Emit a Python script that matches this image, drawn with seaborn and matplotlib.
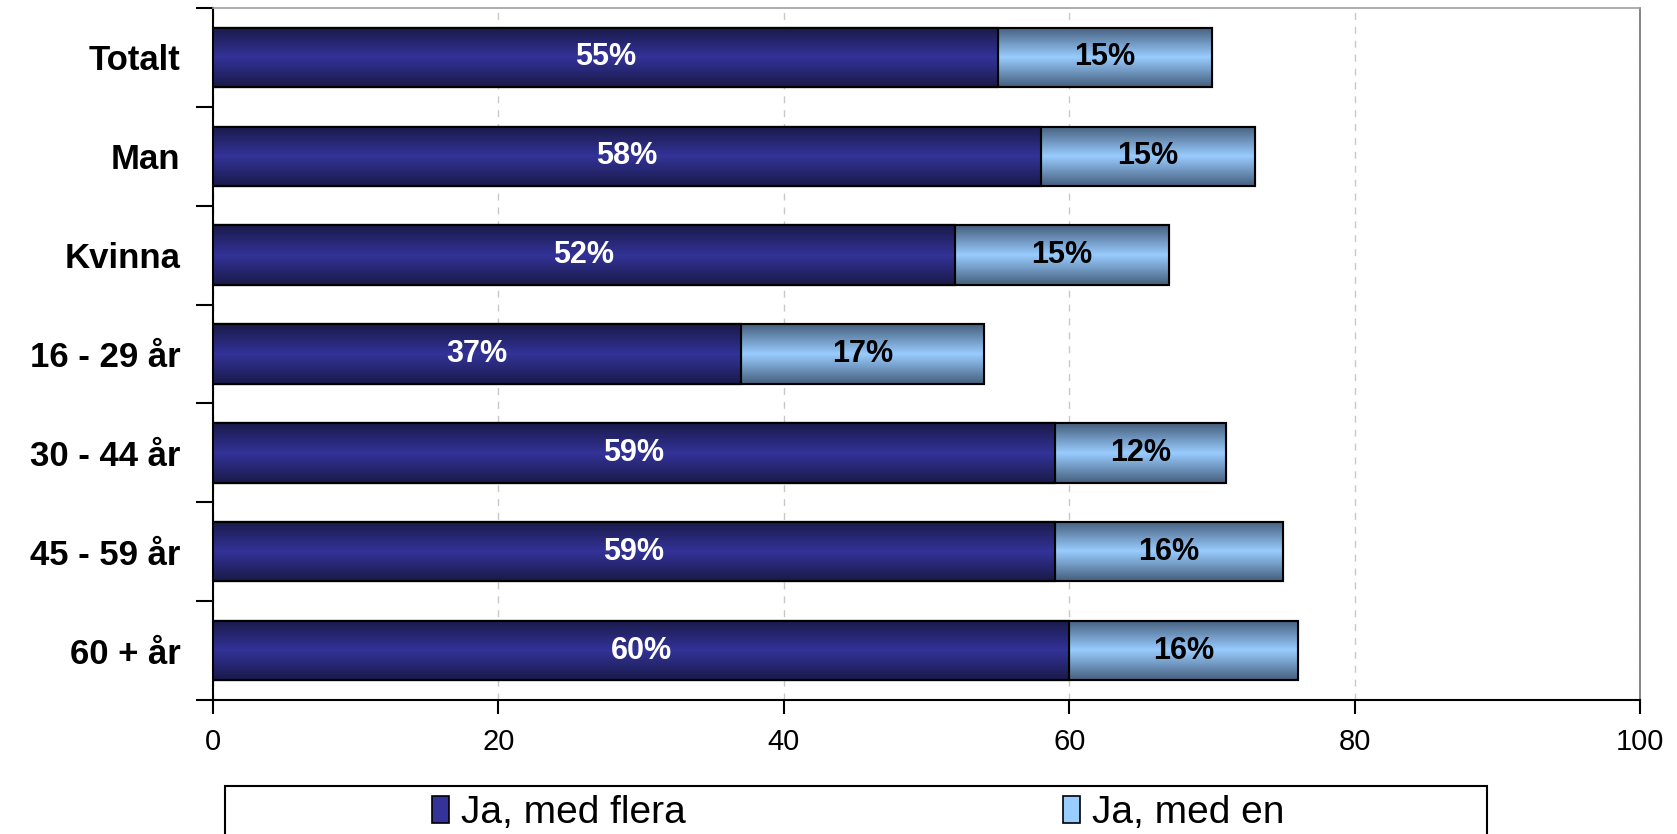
import numpy as np
import pandas as pd
import matplotlib
matplotlib.use("Agg")
import matplotlib.pyplot as plt
from matplotlib.colors import LinearSegmentedColormap
from matplotlib.patches import Patch, Rectangle
import seaborn as sns

## data

groups = ["Totalt", "Man", "Kvinna", "16 - 29 år", "30 - 44 år", "45 - 59 år", "60 + år"]
flera = [55, 58, 52, 37, 59, 59, 60]
en = [15, 15, 15, 17, 12, 16, 16]
xticks = [0, 20, 40, 60, 80, 100]

df = pd.DataFrame({"group": groups, "flera": flera, "en": en})
df["total"] = df["flera"] + df["en"]

sns.set_style("white")
plt.rcParams["font.family"] = ["Liberation Sans", "DejaVu Sans"]
plt.rcParams["text.color"] = "black"
plt.rcParams["xtick.color"] = "black"
plt.rcParams["ytick.color"] = "black"

fig = plt.figure(figsize=(16.77, 8.34), dpi=100)
ax = fig.add_axes([213 / 1677, 1 - 700 / 834, (1640 - 213) / 1677, (700 - 8) / 834])

## stacked bars: total first, then the dark part on top
sns.barplot(data=df, y="group", x="total", color="#99ccff", width=0.6,
            edgecolor="black", linewidth=1.5, ax=ax, zorder=3)
n_light = len(ax.patches)
sns.barplot(data=df, y="group", x="flera", color="#333399", width=0.6,
            edgecolor="black", linewidth=1.5, ax=ax, zorder=4)

## gradient fill for each bar
cm_dark = LinearSegmentedColormap.from_list("d", ["#1a1a4a", "#333399", "#1a1a4a"])
cm_light = LinearSegmentedColormap.from_list("l", ["#46607e", "#99ccff", "#46607e"])
grad = np.linspace(0, 1, 64).reshape(-1, 1)
for i, p in enumerate(list(ax.patches)):
    x0, y0 = p.get_x(), p.get_y()
    w, h = p.get_width(), p.get_height()
    cmap = cm_light if i < n_light else cm_dark
    im = ax.imshow(grad, cmap=cmap, aspect="auto", extent=(x0, x0 + w, y0 + h, y0),
                   zorder=p.get_zorder() + 0.1, interpolation="bilinear")
    im.set_clip_path(p)
    p.set_facecolor("none")
    edge = Rectangle((x0, y0), w, h, fill=False, edgecolor="black", linewidth=1.5,
                     zorder=p.get_zorder() + 0.2)
    ax.add_patch(edge)
ax.set_xlim(0, 100)
ax.set_ylim(6.5, -0.5)

## value labels
for i, (a, b) in enumerate(zip(flera, en)):
    ax.text(a / 2, i, f"{a}%", color="white", fontsize=22, fontweight="bold",
            ha="center", va="center", zorder=10)
    ax.text(a + b / 2, i, f"{b}%", color="black", fontsize=22, fontweight="bold",
            ha="center", va="center", zorder=10)

## grid and axes
ax.set_xticks(xticks)
ax.xaxis.grid(True, linestyle=(0, (5, 5)), color="#c8c8c8", linewidth=1)
ax.set_axisbelow(True)
ax.set_xlabel("")
ax.set_ylabel("")
ax.tick_params(axis="x", bottom=True, direction="out", length=10, width=1.5,
               labelsize=21, pad=10, color="black", labelcolor="black")
ax.tick_params(axis="y", which="major", left=False, labelsize=25, pad=20,
               labelcolor="black")
for lab in ax.get_yticklabels():
    lab.set_fontweight("bold")
ax.set_yticks(np.arange(-0.5, 7, 1), minor=True)
ax.tick_params(axis="y", which="minor", left=True, direction="out", length=12,
               width=1.5, color="black")

ax.spines["left"].set_color("black")
ax.spines["left"].set_linewidth(1.5)
ax.spines["bottom"].set_color("black")
ax.spines["bottom"].set_linewidth(1.5)
ax.spines["top"].set_color("#a0a0a0")
ax.spines["right"].set_color("#707070")
ax.spines["top"].set_linewidth(1.2)
ax.spines["right"].set_linewidth(1.2)

## legend box at the bottom
box = Rectangle((225 / 1677, -0.05), (1487 - 225) / 1677, 0.05 + 1 - 786 / 834,
                transform=fig.transFigure, fill=False, edgecolor="black", linewidth=1.5)
fig.patches.append(box)
handles = [Patch(facecolor="#333399", edgecolor="black", linewidth=1.2),
           Patch(facecolor="#99ccff", edgecolor="black", linewidth=1.2)]
fig.legend(handles, ["Ja, med flera", "Ja, med en"], ncol=2, frameon=False,
           loc="center", bbox_to_anchor=(858 / 1677, 1 - 813 / 834),
           fontsize=28, handlelength=0.45, handleheight=0.7, handletextpad=0.3,
           columnspacing=9.7)

fig.savefig("out.png", dpi=100)
